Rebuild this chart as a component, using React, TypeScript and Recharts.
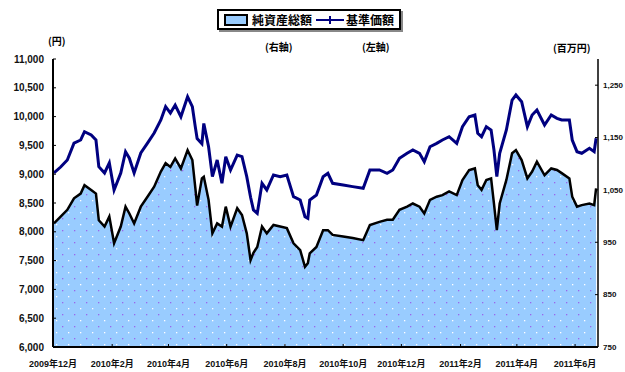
import React from 'react';
import { ComposedChart, Area, Line, XAxis, YAxis, Legend } from 'recharts';

// 日付
const dates = [
  '2009-12-02', '2009-12-09', '2009-12-16', '2009-12-23', '2009-12-30',
  '2010-01-03', '2010-01-10', '2010-01-15', '2010-01-18', '2010-01-24',
  '2010-01-29', '2010-02-03', '2010-02-10', '2010-02-15', '2010-02-19',
  '2010-02-24', '2010-03-03', '2010-03-10', '2010-03-17', '2010-03-24',
  '2010-03-29', '2010-04-03', '2010-04-08', '2010-04-14', '2010-04-21',
  '2010-04-26', '2010-04-29', '2010-05-01', '2010-05-06', '2010-05-08',
  '2010-05-13', '2010-05-17', '2010-05-22', '2010-05-27', '2010-05-31',
  '2010-06-05', '2010-06-12', '2010-06-17', '2010-06-22', '2010-06-26',
  '2010-06-29', '2010-07-03', '2010-07-08', '2010-07-13', '2010-07-20',
  '2010-07-27', '2010-08-03', '2010-08-10', '2010-08-17', '2010-08-22',
  '2010-08-25', '2010-08-27', '2010-09-03', '2010-09-10', '2010-09-15',
  '2010-09-20', '2010-10-01', '2010-10-11', '2010-10-22', '2010-10-29',
  '2010-11-08', '2010-11-16', '2010-11-22', '2010-11-29', '2010-12-07',
  '2010-12-13', '2010-12-20', '2010-12-25', '2010-12-31', '2011-01-07',
  '2011-01-13', '2011-01-20', '2011-01-28', '2011-02-03', '2011-02-10',
  '2011-02-16', '2011-02-19', '2011-02-23', '2011-02-28', '2011-03-05',
  '2011-03-08', '2011-03-11', '2011-03-14', '2011-03-21', '2011-03-27',
  '2011-03-31', '2011-04-06', '2011-04-12', '2011-04-17', '2011-04-22',
  '2011-04-30', '2011-05-07', '2011-05-13', '2011-05-18', '2011-05-26',
  '2011-05-29', '2011-06-03', '2011-06-08', '2011-06-16', '2011-06-21',
  '2011-06-23',
];

// 基準価額（円・左軸）
const navValues = [
  9021, 9125, 9247, 9540, 9594, 9738, 9680, 9594, 9130, 9021,
  9195, 8726, 9021, 9391, 9278, 9021, 9368, 9540, 9715, 9941,
  10172, 10062, 10201, 9998, 10346, 10172, 9830, 9620, 9530, 9880,
  9477, 8957, 9247, 8842, 9304, 9073, 9333, 9304, 8957, 8600,
  8380, 8320, 8842, 8726, 8986, 8957, 8986, 8610, 8552, 8262,
  8234, 8552, 8639, 8957, 9015, 8842, 8813, 8784, 8755, 9073,
  9073, 9015, 9073, 9276, 9363, 9420, 9363, 9218, 9477, 9535,
  9594, 9651, 9535, 9825, 9998, 10028, 9710, 9651, 9825, 9767,
  9420, 8957, 9363, 9767, 10288, 10375, 10259, 9825, 10028, 10115,
  9854, 10028, 9970, 9941, 9941, 9594, 9391, 9363, 9450, 9391,
  9624,
];

// 純資産総額（百万円・右軸）
const assetValues = [
  986, 999, 1012, 1034, 1043, 1059, 1050, 1043, 992, 980,
  999, 948, 980, 1018, 1005, 986, 1018, 1037, 1056, 1085,
  1101, 1094, 1110, 1091, 1126, 1107, 1056, 1020, 1072, 1075,
  1031, 967, 986, 980, 1018, 980, 1015, 1002, 967, 916,
  930, 941, 980, 967, 983, 980, 977, 948, 935, 903,
  910, 929, 941, 973, 973, 964, 961, 958, 954, 983,
  989, 993, 993, 1012, 1018, 1024, 1018, 1005, 1031, 1037,
  1040, 1047, 1040, 1069, 1088, 1091, 1059, 1050, 1069, 1072,
  1024, 973, 1024, 1069, 1120, 1126, 1107, 1072, 1085, 1104,
  1078, 1091, 1088, 1082, 1072, 1037, 1018, 1021, 1024, 1021,
  1053,
];

const xTickMonths = [
  '2009-12-01', '2010-02-01', '2010-04-01', '2010-06-01', '2010-08-01',
  '2010-10-01', '2010-12-01', '2011-02-01', '2011-04-01', '2011-06-01',
];
const leftTicks = [6000, 6500, 7000, 7500, 8000, 8500, 9000, 9500, 10000, 10500, 11000];
const rightTicks = [750, 850, 950, 1050, 1150, 1250];

const BASE = Date.UTC(2009, 11, 1);
const toDay = (s: string) => {
  const [y, m, d] = s.split('-').map(Number);
  return Math.round((Date.UTC(y, m - 1, d) - BASE) / 86400000);
};
const monthLabel = (s: string) => {
  const [y, m] = s.split('-').map(Number);
  return `${y}年${m}月`;
};

const data = dates.map((d, i) => ({ t: toDay(d), nav: navValues[i], assets: assetValues[i] }));
const xTicks = xTickMonths.map(toDay);
const xLabelMap: Record<number, string> = {};
xTickMonths.forEach((m) => { xLabelMap[toDay(m)] = monthLabel(m); });

const fmt = (v: number) => v.toLocaleString('en-US');

const FONT = '"Liberation Sans", Arial, "Noto Sans CJK JP", sans-serif';
const JFONT = '"Noto Sans CJK JP", sans-serif';

const LegendBox = () => (
  <div
    style={{
      position: 'absolute', left: 217, top: 9, height: 21, padding: '0 5px',
      border: '2px solid #000', boxShadow: '2px 2px 0 #888', background: '#fff',
      display: 'flex', alignItems: 'center', fontFamily: JFONT, fontWeight: 700,
      fontSize: 12, color: '#000', whiteSpace: 'nowrap', boxSizing: 'border-box',
    }}
  >
    <svg width={24} height={12} style={{ marginRight: 4 }}>
      <rect x={1} y={1} width={22} height={10} fill="#99ccff" stroke="#000" strokeWidth={2} />
    </svg>
    <span>純資産総額</span>
    <svg width={28} height={12} style={{ margin: '0 2px 0 4px' }}>
      <line x1={0} y1={6} x2={28} y2={6} stroke="#000080" strokeWidth={2} />
      <line x1={14} y1={2} x2={14} y2={10} stroke="#000080" strokeWidth={2} />
    </svg>
    <span>基準価額</span>
  </div>
);

const labelStyle: React.CSSProperties = {
  position: 'absolute', fontFamily: JFONT, fontWeight: 700, fontSize: 10,
  color: '#000', whiteSpace: 'nowrap', lineHeight: '12px',
};

export default function App() {
  return (
    <div style={{ position: 'absolute', left: 0, top: 0, width: 625, height: 372, background: '#fff' }}>
      <ComposedChart
        width={625}
        height={372}
        data={data}
        margin={{ top: 59, right: 0, bottom: 0, left: 0 }}
      >
        <defs>
          <pattern id="dots" width="12" height="12" patternUnits="userSpaceOnUse">
            <rect width="12" height="12" fill="#99ccff" />
            <rect x="2" y="2" width="1.3" height="1.3" fill="#9966ee" />
            <rect x="8" y="8" width="1.3" height="1.3" fill="#ffffff" />
          </pattern>
        </defs>
        <XAxis
          dataKey="t"
          type="number"
          domain={[0, 571]}
          ticks={xTicks}
          tickFormatter={(v: number) => xLabelMap[v] ?? ''}
          allowDataOverflow
          height={25}
          axisLine={{ stroke: '#000', strokeWidth: 2 }}
          tickLine={{ stroke: '#000', strokeWidth: 1 }}
          tickSize={-3}
          tickMargin={17}
          tick={{ fontSize: 9, fontWeight: 700, fill: '#111', fontFamily: FONT }}
          interval={0}
        />
        <XAxis
          xAxisId="top"
          orientation="top"
          dataKey="t"
          type="number"
          domain={[0, 571]}
          height={0}
          tick={false}
          tickLine={false}
          axisLine={{ stroke: '#666', strokeDasharray: '1 1' }}
        />
        <YAxis
          yAxisId="left"
          orientation="left"
          width={53}
          domain={[6000, 11000]}
          ticks={leftTicks}
          tickFormatter={fmt}
          allowDataOverflow
          axisLine={{ stroke: '#000', strokeWidth: 2 }}
          tickLine={{ stroke: '#000', strokeWidth: 1 }}
          tickSize={-3}
          tickMargin={12}
          tick={{ fontSize: 10, fontWeight: 700, fill: '#111', fontFamily: FONT }}
          interval={0}
        />
        <YAxis
          yAxisId="right"
          orientation="right"
          width={27}
          domain={[750, 1300]}
          ticks={rightTicks}
          tickFormatter={fmt}
          allowDataOverflow
          axisLine={{ stroke: '#000', strokeWidth: 1.5 }}
          tickLine={{ stroke: '#000', strokeWidth: 1 }}
          tickSize={-3}
          tickMargin={8}
          tick={{ fontSize: 8, fontWeight: 700, fill: '#111', fontFamily: FONT }}
          interval={0}
        />
        <Legend content={() => <LegendBox />} wrapperStyle={{ position: 'absolute', left: 0, top: 0, width: 0, height: 0 }} />
        <Area
          yAxisId="right"
          type="linear"
          dataKey="assets"
          name="純資産総額"
          stroke="#000"
          strokeWidth={2.5}
          fill="url(#dots)"
          fillOpacity={1}
          baseValue={750}
          isAnimationActive={false}
        />
        <Line
          yAxisId="left"
          type="linear"
          dataKey="nav"
          name="基準価額"
          stroke="#000080"
          strokeWidth={3}
          dot={false}
          isAnimationActive={false}
        />
      </ComposedChart>
      <div style={{ ...labelStyle, left: 48, top: 35 }}>(円)</div>
      <div style={{ ...labelStyle, left: 265, top: 41 }}>(右軸)</div>
      <div style={{ ...labelStyle, left: 362, top: 41 }}>(左軸)</div>
      <div style={{ ...labelStyle, left: 553, top: 42 }}>(百万円)</div>
    </div>
  );
}
